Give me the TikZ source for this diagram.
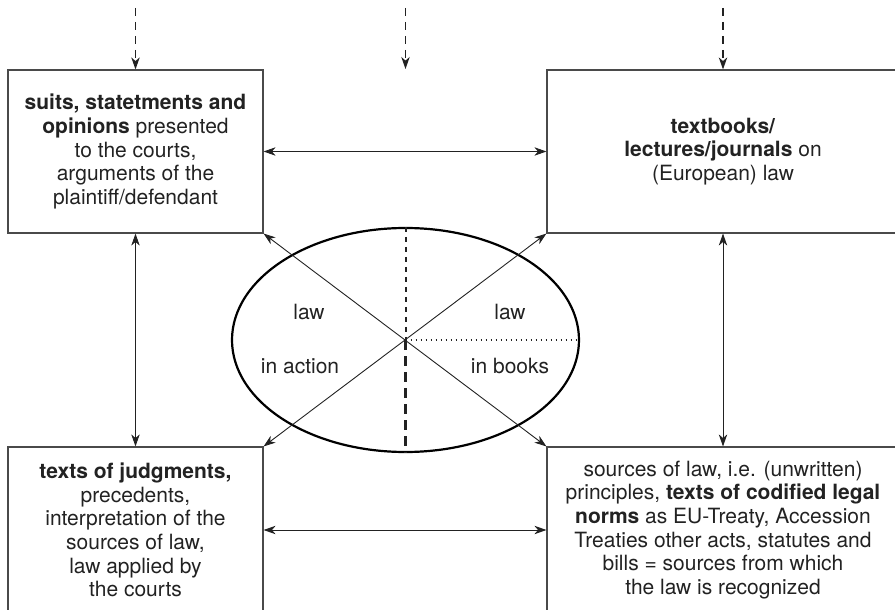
\documentclass[tikz,border=0pt]{standalone}
\usepackage{fontspec}
\setmainfont{TeX Gyre Heros}
\usetikzlibrary{arrows.meta,shapes.geometric}
\definecolor{ink}{HTML}{222222}
\definecolor{boxline}{HTML}{4A4A4A}
\tikzset{
  tip/.style={-{Stealth[length=6pt,width=4.2pt,inset=1.8pt]}},
  both/.style={{Stealth[length=6pt,width=4.2pt,inset=1.8pt]}-{Stealth[length=6pt,width=4.2pt,inset=1.8pt]}},
  textbox/.style={draw=boxline, line width=0.55pt, align=center, text=ink,
    font=\fontsize{10.5}{11.8}\selectfont, inner sep=0pt},
  lbl/.style={text=ink, font=\fontsize{10.5}{12}\selectfont, inner sep=0pt}
}
\begin{document}
\begin{tikzpicture}[x=0.5pt,y=-0.5pt]
  \useasboundingbox (0,0) rectangle (895,610);
  \clip (0,0) rectangle (895,610);
  \node[textbox, minimum width=127.5pt, minimum height=81.5pt] (tl) at (135.5,151.5)
    {\textbf{suits, statetments and}\\ \textbf{opinions} presented\\ to the courts,\\ arguments of the\\ plaintiff/defendant};
  \node[textbox, minimum width=176pt, minimum height=81.5pt] (tr) at (723,151.5)
    {\textbf{textbooks/}\\ \textbf{lectures/journals} on\\ (European) law};
  \node[textbox, minimum width=127.5pt, minimum height=83pt] (bl) at (135.5,530)
    {\textbf{texts of judgments,}\\ precedents,\\ interpretation of the\\ sources of law,\\ law applied by\\ the courts};
  \node[textbox, minimum width=176pt, minimum height=83pt] (br) at (723,530)
    {sources of law, i.e. (unwritten)\\ principles, \textbf{texts of codified legal}\\ \textbf{norms} as EU-Treaty, Accession\\ Treaties other acts, statutes and\\ bills = sources from which\\ the law is recognized};
  \node[ellipse, draw=black, line width=1.1pt, minimum width=173.5pt, minimum height=112pt, inner sep=0pt] (law) at (405.5,340) {};
  \coordinate (in1) at (135.5,8);
  \coordinate (in2) at (405.5,8);
  \coordinate (in3) at (723,8);
  \coordinate (out2) at (405.5,69);
  \draw[tip, dashed, dash pattern=on 4pt off 3pt, line width=0.65pt, ink] (in1) -- (tl.north);
  \draw[tip, dashed, dash pattern=on 4pt off 3pt, line width=0.65pt, ink] (in2) -- (out2);
  \draw[tip, dashed, dash pattern=on 4pt off 3pt, line width=0.65pt, ink] (in3) -- (tr.north);
  \draw[both, line width=0.45pt, ink] (tl.east) -- (tr.west);
  \draw[both, line width=0.45pt, ink] (bl.east) -- (br.west);
  \draw[both, line width=0.45pt, ink] (tl.south) -- (bl.north);
  \draw[both, line width=0.45pt, ink] (tr.south) -- (br.north);
  \draw[both, line width=0.45pt, ink] (tl.south east) -- (br.north west);
  \draw[both, line width=0.45pt, ink] (tr.south west) -- (bl.north east);
  \draw[line width=1pt, dash pattern=on 2.5pt off 2.5pt, ink] (law.north) -- (law.center);
  \draw[line width=1.1pt, dash pattern=on 5pt off 3pt, ink] (law.center) -- (law.south);
  \draw[line width=0.75pt, dash pattern=on 0.7pt off 1.8pt, ink] (law.center) -- (law.east);
  \node[lbl] (lawl) at (309,312) {law};
  \node[lbl] (inaction) at (300,366) {in action};
  \node[lbl] (lawr) at (510,312) {law};
  \node[lbl] (inbooks) at (510,366) {in books};
\end{tikzpicture}
\end{document}
